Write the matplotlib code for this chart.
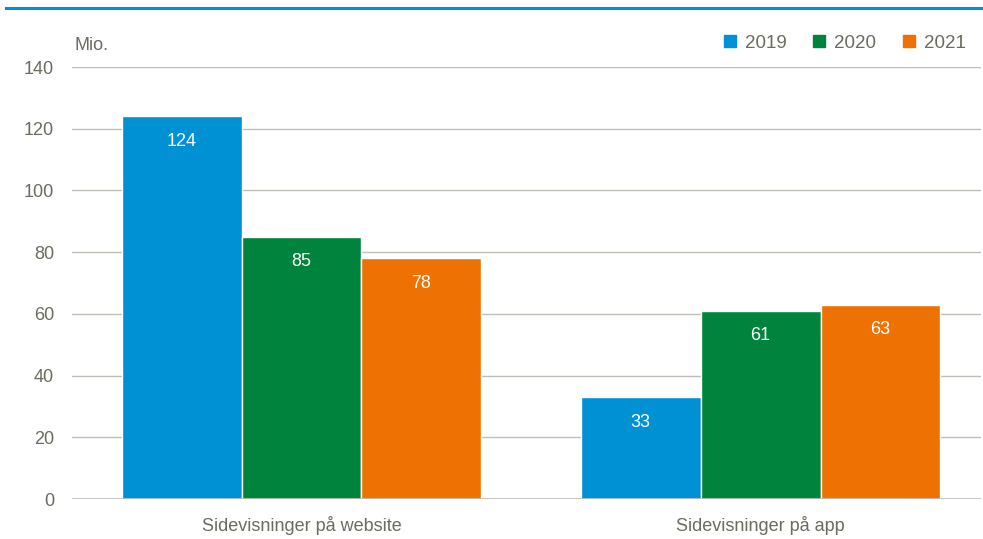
import numpy as np
import matplotlib
matplotlib.use('Agg')
import matplotlib.pyplot as plt
from matplotlib.lines import Line2D

plt.rcParams['font.family'] = ['Liberation Sans', 'DejaVu Sans']

categories = ['Sidevisninger på website', 'Sidevisninger på app']
years = ['2019', '2020', '2021']
values_2019 = [124, 33]
values_2020 = [85, 61]
values_2021 = [78, 63]
colors = ['#0090D4', '#00843D', '#EE7203']
textgray = '#6B6B5E'

fig = plt.figure(figsize=(9.83, 5.39), dpi=100)
ax = fig.add_axes([72 / 983, 1 - 499 / 539, 1 - 72 / 983 - 0.002, (499 - 67) / 539])

x = np.arange(len(categories))
w = 0.261
series = [values_2019, values_2020, values_2021]
for i, (vals, c) in enumerate(zip(series, colors)):
    bars = ax.bar(x + (i - 1) * w, vals, w, color=c, edgecolor='white', linewidth=1, zorder=3, label=years[i])
    for b, v in zip(bars, vals):
        ax.annotate(str(v), (b.get_x() + b.get_width() / 2, v), xytext=(0, -18), textcoords='offset points',
                    ha='center', va='center', color='white', fontsize=13, zorder=4)

ax.set_ylim(0, 140)
ax.set_yticks(range(0, 141, 20))
ax.set_xlim(-0.5, 1.48)
ax.set_xticks(x)
ax.set_xticklabels(categories)
ax.yaxis.grid(True, color='#BFBFB8', linewidth=1, zorder=0)
ax.axhline(0, color='#BFBFB8', linewidth=1.2, zorder=5)
for s in ['top', 'right', 'left', 'bottom']:
    ax.spines[s].set_visible(False)
ax.tick_params(axis='both', length=0, colors=textgray, labelsize=13)
ax.tick_params(axis='y', pad=13)
ax.tick_params(axis='x', pad=12)

fig.text(75 / 983, 1 - 46 / 539, 'Mio.', color=textgray, fontsize=13, va='center', ha='left')

handles = [Line2D([], [], marker='s', linestyle='', color=c, markersize=8) for c in colors]
fig.legend(handles, years, loc='center right', bbox_to_anchor=(1.0, 1 - 43 / 539), ncol=3, frameon=False,
           fontsize=13.5, labelcolor=textgray, handletextpad=0.3, columnspacing=1.25, handlelength=1.0)

fig.add_artist(Line2D([6 / 983, 1.0], [1 - 8 / 539, 1 - 8 / 539], color='#0090D4', linewidth=2.2))

fig.savefig('out.png', dpi=100)
